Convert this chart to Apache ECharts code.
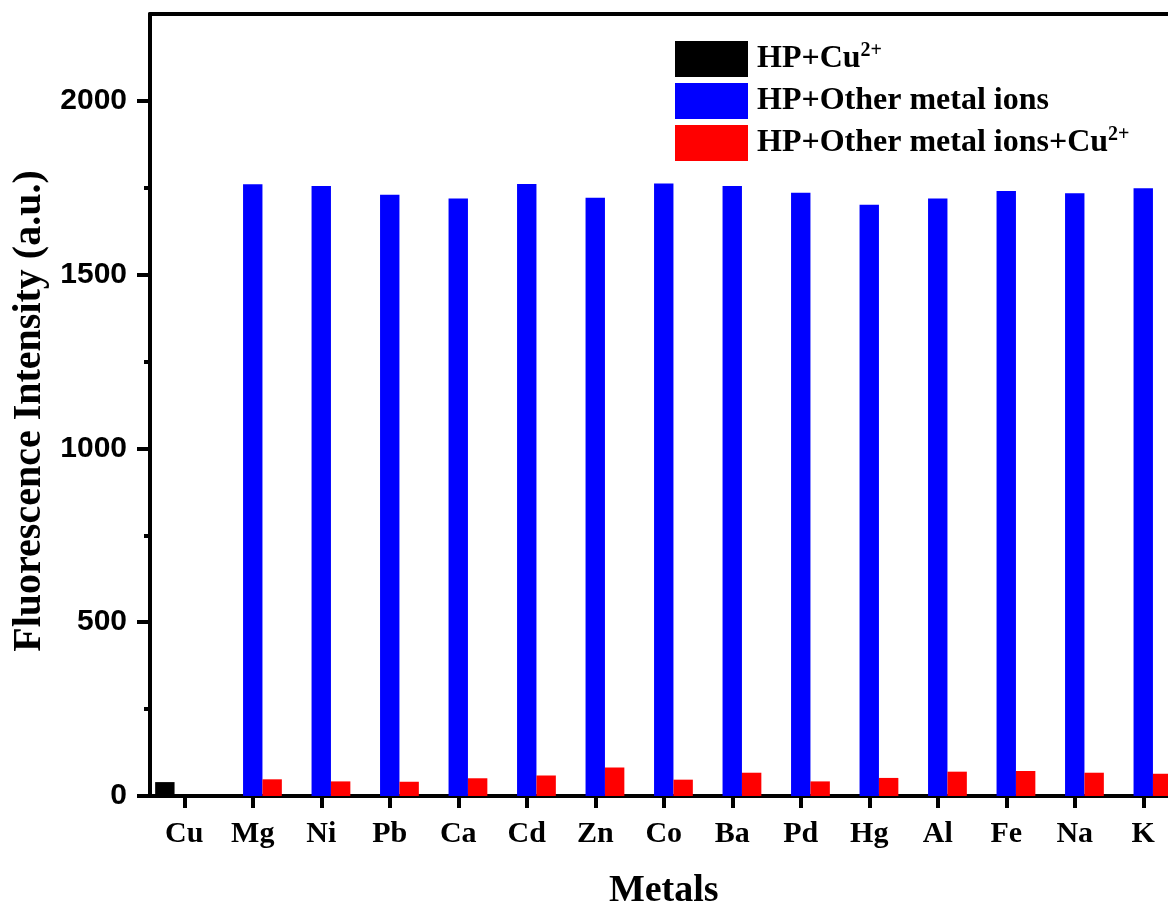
<!DOCTYPE html>
<html>
<head>
<meta charset="utf-8">
<script src="https://cdn.jsdelivr.net/npm/echarts@6/dist/echarts.min.js"></script>
<style>
  html, body { margin: 0; padding: 0; background: #fff; }
  #chart { width: 1168px; height: 909px; }
</style>
</head>
<body>
<div id="chart"></div>
<script>
// ---- data ----
const categories = ['Cu', 'Mg', 'Ni', 'Pb', 'Ca', 'Cd', 'Zn', 'Co', 'Ba', 'Pd', 'Hg', 'Al', 'Fe', 'Na', 'K'];
const hpCu = [40, '-', '-', '-', '-', '-', '-', '-', '-', '-', '-', '-', '-', '-', '-'];
const hpOther = ['-', 1760, 1755, 1730, 1719, 1761, 1721, 1762, 1755, 1736, 1701, 1719, 1741, 1734, 1749];
const hpOtherCu = ['-', 48, 42, 41, 51, 59, 82, 47, 67, 42, 52, 70, 72, 67, 64];
const majorTicks = [0, 500, 1000, 1500, 2000];
const minorTicks = [250, 750, 1250, 1750];
const seriesNames = ['HP+Cu2+', 'HP+Other metal ions', 'HP+Other metal ions+Cu2+'];

const serif = '"Liberation Serif", "Times New Roman", serif';
const sans = '"Liberation Sans", Arial, sans-serif';

const chart = echarts.init(document.getElementById('chart'), null, { renderer: 'canvas' });

const barW = 19.4;

const option = {
  backgroundColor: '#ffffff',
  animation: false,
  grid: { left: 150, top: 14, width: 1027.5, height: 782, containLabel: false, outerBoundsMode: 'none' },
  legend: {
    orient: 'vertical',
    left: 670,
    top: 36,
    itemWidth: 73,
    itemHeight: 36,
    itemGap: 6,
    icon: 'rect',
    data: seriesNames,
    formatter: function (name) {
      if (name === seriesNames[0]) return '{a|HP+Cu}{s|2+}';
      if (name === seriesNames[1]) return '{a|HP+Other metal ions}';
      return '{a|HP+Other metal ions+Cu}{s|2+}';
    },
    textStyle: {
      rich: {
        a: { fontFamily: serif, fontWeight: 'bold', fontSize: 32, color: '#000', lineHeight: 36, padding: [0, 0, 0, 4] },
        s: { fontFamily: serif, fontWeight: 'bold', fontSize: 20, color: '#000', lineHeight: 36, verticalAlign: 'top', padding: [0, 0, 12, 0] }
      }
    }
  },
  xAxis: [
    {
      type: 'category',
      data: categories,
      position: 'bottom',
      boundaryGap: true,
      axisLine: { show: true, onZero: false, lineStyle: { color: '#000', width: 4 } },
      axisTick: { show: true, alignWithLabel: true, length: 12, lineStyle: { color: '#000', width: 4 } },
      axisLabel: { interval: 0, margin: 23, fontFamily: serif, fontWeight: 'bold', fontSize: 30, color: '#000' },
      splitLine: { show: false },
      name: 'Metals',
      nameLocation: 'middle',
      nameGap: 76,
      nameTextStyle: { fontFamily: serif, fontWeight: 'bold', fontSize: 38, color: '#000' }
    },
    {
      type: 'category',
      data: categories,
      position: 'top',
      axisLine: { show: true, onZero: false, lineStyle: { color: '#000', width: 4 } },
      axisTick: { show: false },
      axisLabel: { show: false },
      splitLine: { show: false }
    }
  ],
  yAxis: [
    {
      type: 'value',
      position: 'left',
      min: 0,
      max: 2250,
      interval: 250,
      axisLine: { show: true, onZero: false, lineStyle: { color: '#000', width: 4 } },
      axisTick: { show: true, customValues: majorTicks, length: 13, lineStyle: { color: '#000', width: 4 } },
      axisLabel: {
        customValues: majorTicks, margin: 23, fontFamily: sans, fontWeight: 'bold', fontSize: 30, color: '#000',
        formatter: function (v) { return String(v); }
      },
      splitLine: { show: false },
      name: 'Fluorescence Intensity (a.u.)',
      nameLocation: 'middle',
      nameGap: 95,
      nameRotate: 90,
      nameTextStyle: { fontFamily: serif, fontWeight: 'bold', fontSize: 40, color: '#000', padding: [0, 12, 0, 0] }
    },
    {
      type: 'value',
      position: 'left',
      offset: 0,
      min: 0,
      max: 2250,
      interval: 250,
      axisLine: { show: false },
      axisTick: { show: true, customValues: minorTicks, length: 6, lineStyle: { color: '#000', width: 4 } },
      axisLabel: { show: false },
      splitLine: { show: false }
    }
  ],
  series: [
    { name: seriesNames[0], type: 'bar', data: hpCu, barWidth: barW, barGap: '0%', itemStyle: { color: '#000000' } },
    { name: seriesNames[1], type: 'bar', data: hpOther, barWidth: barW, barGap: '0%', itemStyle: { color: '#0000FF' } },
    { name: seriesNames[2], type: 'bar', data: hpOtherCu, barWidth: barW, barGap: '0%', itemStyle: { color: '#FF0000' } }
  ]
};

chart.setOption(option);
</script>
</body>
</html>
